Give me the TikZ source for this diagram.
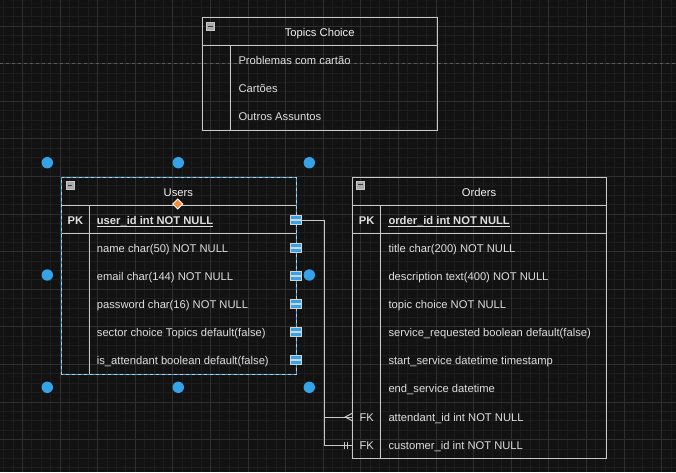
\documentclass[tikz,border=0pt]{standalone}
\usepackage{fontspec}
\setmainfont{Liberation Sans}

\definecolor{canvas}{RGB}{18,18,18}
\definecolor{gridminor}{RGB}{29,29,29}
\definecolor{gridmajor}{RGB}{47,47,47}
\definecolor{pagegray}{RGB}{90,90,90}
\definecolor{linegray}{RGB}{200,200,200}
\definecolor{textgray}{RGB}{222,222,222}
\definecolor{titlewhite}{RGB}{242,242,242}
\definecolor{handleblue}{RGB}{52,163,232}
\definecolor{diamondorange}{RGB}{240,140,60}
\definecolor{icongray}{RGB}{170,170,170}
\definecolor{icondark}{RGB}{60,60,60}

\begin{document}
\begin{tikzpicture}[x = 1pt, y = -1pt,
	border/.style = {draw = linegray, line width = 1pt},
	relline/.style = {draw = linegray, line width = 1pt},
	title/.style = {text = titlewhite, font = \fontsize{11.2}{13}\selectfont, inner sep = 0pt, text height = 8pt, text depth = 0pt},
	field/.style = {title, text = textgray, anchor = west},
	keyfield/.style = {field, font = \fontsize{11.2}{13}\selectfont\bfseries},
	tag/.style = {title, text = textgray},
	keytag/.style = {tag, font = \fontsize{11.2}{13}\selectfont\bfseries},
	keyline/.style = {draw = textgray, line width = 0.9pt},
	selectline/.style = {draw = handleblue, line width = 1pt, dash pattern = on 3pt off 3pt},
	pointbar/.style = {fill = handleblue, draw = linegray!80, line width = 0.7pt}
]

	\useasboundingbox (0, 0) rectangle (676, 472);

	% Dark canvas with grid

	\fill [canvas] (0, 0) rectangle (676, 472);
	\foreach \x in {3.7, 13.1, ..., 676}
		\draw [gridminor, line width = 1pt] (\x, 0) -- (\x, 472);
	\foreach \y in {7.2, 16.6, ..., 472}
		\draw [gridminor, line width = 1pt] (0, \y) -- (676, \y);
	\foreach \x in {22.5, 60.1, ..., 676}
		\draw [gridmajor, line width = 1pt] (\x, 0) -- (\x, 472);
	\foreach \y in {26, 63.6, ..., 472}
		\draw [gridmajor, line width = 1pt] (0, \y) -- (676, \y);

	% Page break

	\draw [pagegray, line width = 1pt, dash pattern = on 3pt off 3pt] (0, 63.6) -- (676, 63.6);

	% Topics Choice table

	\draw [border] (202.3, 17.3) rectangle (437, 130);
	\draw [border] (202.3, 45.7) -- (437, 45.7);
	\draw [border] (230.3, 45.7) -- (230.3, 130);
	\node [title] (topics) at (319.7, 32) {Topics Choice};
	\node [field] (problemas) at (238.3, 60.3) {Problemas com cartão};
	\node [field] (cartoes) at (238.3, 88.5) {Cartões};
	\node [field] (outros) at (238.3, 116.8) {Outros Assuntos};

	% Users table

	\draw [border] (61.7, 177.3) rectangle (296.7, 374);
	\draw [border] (61.7, 205) -- (296.7, 205);
	\draw [border] (61.7, 233.5) -- (296.7, 233.5);
	\draw [border] (89.3, 205) -- (89.3, 374);
	\node [title] (users) at (178.3, 192.3) {Users};
	\node [keytag] (userspk) at (75.5, 220) {PK};
	\node [keyfield] (userid) at (96.7, 220) {user\_id int NOT NULL};
	\draw [keyline] ([yshift = -2pt] userid.base west) -- ([yshift = -2pt] userid.base east);
	\node [field] (username) at (96.7, 248) {name char(50) NOT NULL};
	\node [field] (useremail) at (96.7, 276) {email char(144) NOT NULL};
	\node [field] (userpassword) at (96.7, 304) {password char(16) NOT NULL};
	\node [field] (usersector) at (96.7, 332) {sector choice Topics default(false)};
	\node [field] (userattendant) at (96.7, 360.3) {is\_attendant boolean default(false)};

	% Orders table

	\draw [border] (352.7, 177.3) rectangle (606, 458.3);
	\draw [border] (352.7, 205) -- (606, 205);
	\draw [border] (352.7, 233.5) -- (606, 233.5);
	\draw [border] (380.7, 205) -- (380.7, 458.3);
	\node [title] (orders) at (479, 192.3) {Orders};
	\node [keytag] (orderspk) at (366.7, 220.5) {PK};
	\node [keyfield] (orderid) at (388.3, 220.5) {order\_id int NOT NULL};
	\draw [keyline] ([yshift = -2pt] orderid.base west) -- ([yshift = -2pt] orderid.base east);
	\node [field] (ordertitle) at (388.3, 248.6) {title char(200) NOT NULL};
	\node [field] (orderdesc) at (388.3, 276.6) {description text(400) NOT NULL};
	\node [field] (ordertopic) at (388.3, 304.7) {topic choice NOT NULL};
	\node [field] (orderrequested) at (388.3, 332.8) {service\_requested boolean default(false)};
	\node [field] (orderstart) at (388.3, 360.9) {start\_service datetime timestamp};
	\node [field] (orderend) at (388.3, 388.9) {end\_service datetime};
	\node [tag] (attendantfk) at (366.7, 417) {FK};
	\node [field] (attendantid) at (388.3, 417) {attendant\_id int NOT NULL};
	\node [tag] (customerfk) at (366.7, 445.1) {FK};
	\node [field] (customerid) at (388.3, 445.1) {customer\_id int NOT NULL};

	% Collapse icons

	\foreach \x/\y in {206.5/22.3, 66/181.7, 356.5/180.8}
	{
		\filldraw [fill = icongray, draw = linegray, line width = 0.6pt] (\x, \y) rectangle (\x + 8, \y + 8);
		\draw [icondark, line width = 1.3pt] (\x + 1.6, \y + 4) -- (\x + 6.4, \y + 4);
	}

	% Relationships

	\coordinate (useridout) at (296.7, 220);
	\coordinate (relbend) at (324.3, 220);
	\coordinate (attendantin) at (352.7, 417);
	\coordinate (customerin) at (352.7, 445.1);

	\draw [relline] (useridout) -- (relbend) |- (attendantin);
	\draw [relline] (relbend) |- (customerin);

	\draw [relline] ([yshift = 4pt] attendantin) -- ([xshift = -7.5pt] attendantin) -- ([yshift = -4pt] attendantin);

	\foreach \d in {-8.2, -5.7}
		\draw [relline] ([xshift = \d pt, yshift = 3.5pt] customerin) -- ([xshift = \d pt, yshift = -3.5pt] customerin);

	% Selection on Users

	\draw [selectline] (61.7, 177.3) rectangle (296.7, 374);

	\foreach \y in {220, 248, ..., 360}
	{
		\filldraw [pointbar] (290, \y - 4.5) rectangle (301.5, \y - 0.8);
		\filldraw [pointbar] (290, \y + 0.5) rectangle (301.5, \y + 4.2);
	}

	\foreach \x/\y in {47.3/162.7, 178.3/162.7, 309.3/162.7, 47.3/275, 309.3/275, 47.3/387.3, 178.3/387.3, 309.3/387.3}
		\fill [handleblue] (\x, \y) circle (5.7pt);

	\filldraw [fill = diamondorange, draw = white, line width = 0.8pt] (177.7, 199) -- (182.7, 204) -- (177.7, 209) -- (172.7, 204) -- cycle;

\end{tikzpicture}
\end{document}
